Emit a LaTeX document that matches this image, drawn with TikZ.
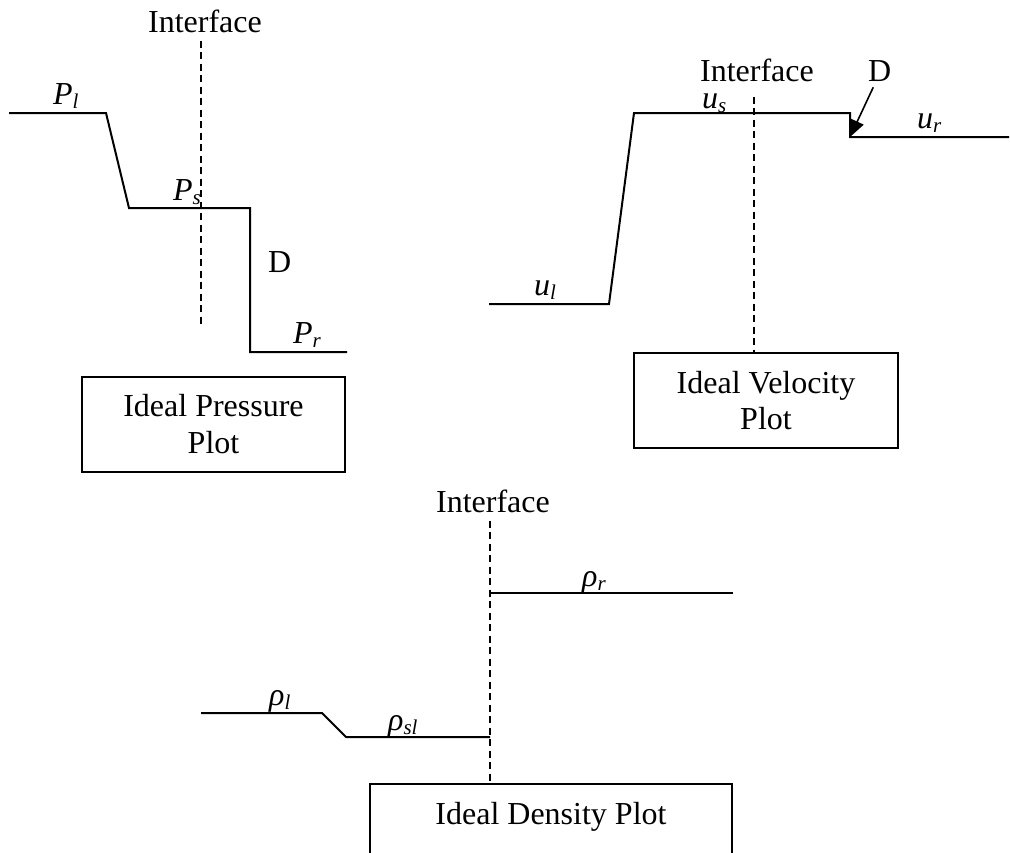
\documentclass[tikz,border=0pt]{standalone}
\usepackage{fontspec}
\setmainfont{Liberation Serif}
\usetikzlibrary{arrows.meta}
% lowered, smaller italic subscript for the state labels
\newcommand{\lowsub}[1]{\raisebox{-4pt}{\fontsize{21}{21}\selectfont\itshape #1}}
\begin{document}
\begin{tikzpicture}[x=1pt,y=-1pt,
  every node/.style={font=\fontsize{32}{37}\selectfont, inner sep=0pt},
  lbl/.style={anchor=base west},
  ttl/.style={anchor=base},
  curve/.style={line width=2pt, line join=miter},
  dashline/.style={line width=1.6pt, dash pattern=on 7pt off 4.5pt},
  caption/.style={draw, line width=2pt, align=center, inner sep=0pt}]
\useasboundingbox (0,0) rectangle (1010,852);
\clip (0,0) rectangle (1010,852);

% ---------- pressure ----------
\node[ttl] (pint) at (205,32) {Interface};
\coordinate (pdash) at (201,327);
\draw[dashline, shorten <=8pt] (pint.south -| pdash) -- (pdash);
\draw[curve] (9,113) -- (106,113) -- (129,208) -- (250,208) -- (250,352) -- (347,352);
\node[lbl] (pl) at (53,104) {\textit{P}\lowsub{l}};
\node[lbl] (ps) at (173,200) {\textit{P}\lowsub{s}};
\node[lbl] (pd) at (268,272) {D};
\node[lbl] (pr) at (293,343) {\textit{P}\lowsub{r}};
\node[caption, minimum width=263pt, minimum height=95pt] (pbox) at (213.5,424.5)
  {Ideal Pressure\\Plot};

% ---------- velocity ----------
\node[ttl] (vint) at (757,81) {Interface};
\node[lbl] (vd) at (868,81) {D};
\node[caption, minimum width=264pt, minimum height=95pt] (vbox) at (766,400.5)
  {Ideal Velocity\\[-1pt]Plot};
\coordinate (vdash) at (754,353);
\draw[dashline, shorten <=15pt] (vint.south -| vdash) -- (vdash);
\coordinate (vcorner) at (850,137);
\draw[curve] (489,304) -- (609,304) -- (634,113) -- (850,113) -- (vcorner) -- (1009,137);
\node[lbl] (us) at (702,108) {\textit{u}\lowsub{s}};
\node[lbl] (ur) at (917,128) {\textit{u}\lowsub{r}};
\node[lbl] (ul) at (534,295) {\textit{u}\lowsub{l}};
\draw[line width=1.6pt, -{Triangle[length=17pt,width=14pt]}]
  ([xshift=-6.5pt,yshift=-6pt]vd.south) -- (vcorner);

% ---------- density ----------
\node[ttl] (dint) at (493,512) {Interface};
\node[caption, anchor=base, minimum width=362pt, text height=40pt, text depth=45pt]
  (dbox) at (551,824) {Ideal Density Plot};
\coordinate (ddash) at (490,784);
\draw[dashline, shorten <=8pt] (dint.south -| ddash) -- (ddash);
\draw[curve] (201,713) -- (322,713) -- (346,737) -- (490,737);
\draw[curve] (490,593) -- (733,593);
\node[lbl] (rr) at (582,586) {\textit{ρ}\lowsub{r}};
\node[lbl] (rl) at (269,705) {\textit{ρ}\lowsub{l}};
\node[lbl] (rsl) at (388,730) {\textit{ρ}\lowsub{sl}};
\end{tikzpicture}
\end{document}
